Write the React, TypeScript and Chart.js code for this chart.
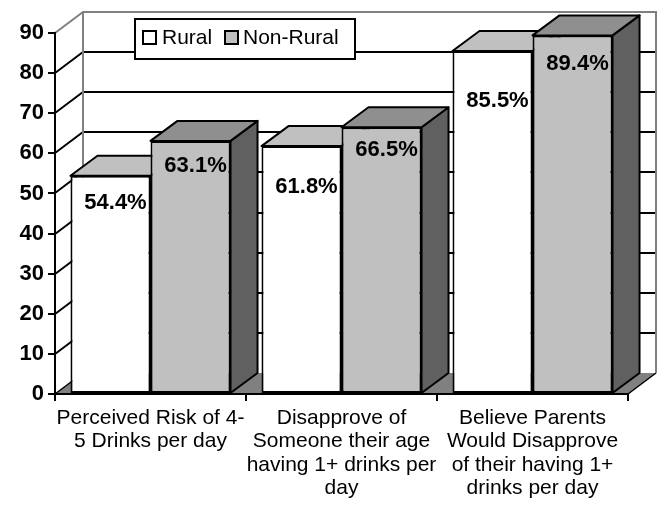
import React, { useEffect, useRef } from "react";
import { Chart, registerables } from "chart.js";

Chart.register(...registerables);

// ---- data ----
const categories: string[][] = [
  ["Perceived Risk of 4-", "5 Drinks per day"],
  ["Disapprove of", "Someone their age", "having 1+ drinks per", "day"],
  ["Believe Parents", "Would Disapprove", "of their having 1+", "drinks per day"],
];
const seriesNames = ["Rural", "Non-Rural"];
const ruralValues = [54.4, 61.8, 85.5];
const nonRuralValues = [63.1, 66.5, 89.4];
const yMin = 0;
const yMax = 90;
const yStep = 10;

// ---- styling ----
const FONT = '"Liberation Sans", Arial, Helvetica, sans-serif';
const FRONT_COLORS = ["#ffffff", "#c0c0c0"];
const TOP_COLORS = ["#c0c0c0", "#8f8f8f"];
const SIDE_COLORS = ["#808080", "#606060"];
const LABEL_DROP = [
  [27, 41, 50],
  [25, 23, 29],
];
const BAR_DX = 27;
const BAR_DY = 20;
const WALL_DX = 28;
const WALL_DY = 21;

const threeD = {
  id: "threeD",
  beforeDraw(chart: any) {
    const { ctx, chartArea, scales } = chart;
    const { left, right, bottom } = chartArea;
    const y = scales.y;
    ctx.save();
    // floor
    ctx.fillStyle = "#808080";
    ctx.beginPath();
    ctx.moveTo(left, bottom);
    ctx.lineTo(right, bottom);
    ctx.lineTo(right + WALL_DX, bottom - WALL_DY);
    ctx.lineTo(left + WALL_DX, bottom - WALL_DY);
    ctx.closePath();
    ctx.fill();
    ctx.strokeStyle = "#000";
    ctx.lineWidth = 1.5;
    ctx.beginPath();
    ctx.moveTo(left, bottom);
    ctx.lineTo(left + WALL_DX, bottom - WALL_DY);
    ctx.moveTo(right, bottom);
    ctx.lineTo(right + WALL_DX, bottom - WALL_DY);
    ctx.stroke();

    // gridlines on left wall and back wall
    ctx.lineWidth = 2;
    ctx.strokeStyle = "#000";
    for (let v = yMin + yStep; v < yMax; v += yStep) {
      const py = Math.round(y.getPixelForValue(v));
      ctx.beginPath();
      ctx.moveTo(left, py);
      ctx.lineTo(left + WALL_DX, py - WALL_DY);
      ctx.lineTo(right + WALL_DX, py - WALL_DY);
      ctx.stroke();
    }
    // wall edges (gray)
    const pt = Math.round(y.getPixelForValue(yMax));
    ctx.strokeStyle = "#808080";
    ctx.lineWidth = 2;
    ctx.beginPath();
    ctx.moveTo(left, pt);
    ctx.lineTo(left + WALL_DX, pt - WALL_DY);
    ctx.lineTo(right + WALL_DX, pt - WALL_DY);
    ctx.lineTo(right + WALL_DX, bottom - WALL_DY);
    ctx.moveTo(left + WALL_DX, pt - WALL_DY);
    ctx.lineTo(left + WALL_DX, bottom - WALL_DY);
    ctx.stroke();
    ctx.restore();
  },
  beforeDatasetsDraw(chart: any) {
    // top and side faces of every bar, drawn before the front faces
    const { ctx } = chart;
    ctx.save();
    ctx.strokeStyle = "#000";
    ctx.lineWidth = 2;
    ctx.lineJoin = "round";
    chart.data.datasets.forEach((_ds: any, i: number) => {
      const meta = chart.getDatasetMeta(i);
      meta.data.forEach((bar: any) => {
        const { x, y, base, width } = bar.getProps(["x", "y", "base", "width"], true);
        const l = x - width / 2;
        const r = x + width / 2;
        ctx.fillStyle = SIDE_COLORS[i];
        ctx.beginPath();
        ctx.moveTo(r, y);
        ctx.lineTo(r + BAR_DX, y - BAR_DY);
        ctx.lineTo(r + BAR_DX, base - BAR_DY);
        ctx.lineTo(r, base);
        ctx.closePath();
        ctx.fill();
        ctx.stroke();
        ctx.fillStyle = TOP_COLORS[i];
        ctx.beginPath();
        ctx.moveTo(l, y);
        ctx.lineTo(r, y);
        ctx.lineTo(r + BAR_DX, y - BAR_DY);
        ctx.lineTo(l + BAR_DX, y - BAR_DY);
        ctx.closePath();
        ctx.fill();
        ctx.stroke();
      });
    });
    ctx.restore();
  },
  afterDatasetsDraw(chart: any) {
    const { ctx } = chart;
    ctx.save();
    ctx.fillStyle = "#000";
    ctx.font = `bold 22px ${FONT}`;
    ctx.textAlign = "center";
    ctx.textBaseline = "middle";
    chart.data.datasets.forEach((ds: any, i: number) => {
      const meta = chart.getDatasetMeta(i);
      meta.data.forEach((bar: any, j: number) => {
        const { x, y } = bar.getProps(["x", "y"], true);
        ctx.fillText(`${Number(ds.data[j]).toFixed(1)}%`, x + 5, y + LABEL_DROP[i][j]);
      });
    });
    ctx.restore();
  },
  afterDraw(chart: any) {
    const { ctx } = chart;
    ctx.save();
    const bx = 135, by = 19, bw = 220, bh = 40;
    ctx.fillStyle = "#fff";
    ctx.fillRect(bx, by, bw, bh);
    ctx.strokeStyle = "#000";
    ctx.lineWidth = 2;
    ctx.strokeRect(bx, by, bw, bh);
    ctx.font = `21px ${FONT}`;
    ctx.textBaseline = "middle";
    ctx.textAlign = "left";
    const items = [
      { sx: 143, tx: 162 },
      { sx: 225, tx: 243 },
    ];
    chart.data.datasets.forEach((ds: any, i: number) => {
      const it = items[i];
      ctx.fillStyle = FRONT_COLORS[i];
      ctx.fillRect(it.sx, 31, 13, 13);
      ctx.strokeStyle = "#000";
      ctx.lineWidth = 2;
      ctx.strokeRect(it.sx, 31, 13, 13);
      ctx.fillStyle = "#000";
      ctx.fillText(ds.label, it.tx, 38);
    });
    ctx.restore();
  },
};

export default function App() {
  const ref = useRef<HTMLCanvasElement | null>(null);
  useEffect(() => {
    if (!ref.current) return;
    const chart = new Chart(ref.current, {
      type: "bar",
      data: {
        labels: categories as any,
        datasets: [
          {
            label: seriesNames[0],
            data: ruralValues,
            backgroundColor: FRONT_COLORS[0],
            borderColor: "#000",
            borderWidth: 2,
            borderSkipped: false,
            categoryPercentage: 0.838,
            barPercentage: 1,
          },
          {
            label: seriesNames[1],
            data: nonRuralValues,
            backgroundColor: FRONT_COLORS[1],
            borderColor: "#000",
            borderWidth: 2,
            borderSkipped: false,
            categoryPercentage: 0.838,
            barPercentage: 1,
          },
        ],
      },
      options: {
        animation: false,
        responsive: false,
        layout: { padding: { top: 33, right: 35, bottom: 0, left: 0 } },
        plugins: { legend: { display: false }, tooltip: { enabled: false } },
        scales: {
          x: {
            grid: { offset: true, drawOnChartArea: false, drawTicks: true, tickLength: 7, color: "#000", lineWidth: 2 },
            border: { color: "#000", width: 2 },
            ticks: {
              color: "#000",
              font: { family: FONT, size: 21, lineHeight: 1.1 },
              padding: 6,
              maxRotation: 0,
              minRotation: 0,
              autoSkip: false,
            },
            afterFit: (s: any) => {
              s.height = 116;
            },
          },
          y: {
            min: yMin,
            max: yMax,
            ticks: {
              stepSize: yStep,
              color: "#000",
              font: { family: FONT, size: 22, weight: "bold" },
              padding: 4,
            },
            grid: { drawOnChartArea: false, drawTicks: true, tickLength: 7, color: "#000", lineWidth: 2 },
            border: { color: "#000", width: 2 },
            afterFit: (s: any) => {
              s.width = 55;
            },
          },
        },
      } as any,
      plugins: [threeD],
    });
    return () => chart.destroy();
  }, []);
  return (
    <div style={{ position: "absolute", left: 0, top: 0, width: 663, height: 510, background: "#fff" }}>
      <canvas ref={ref} width={663} height={510} style={{ display: "block" }} />
    </div>
  );
}
